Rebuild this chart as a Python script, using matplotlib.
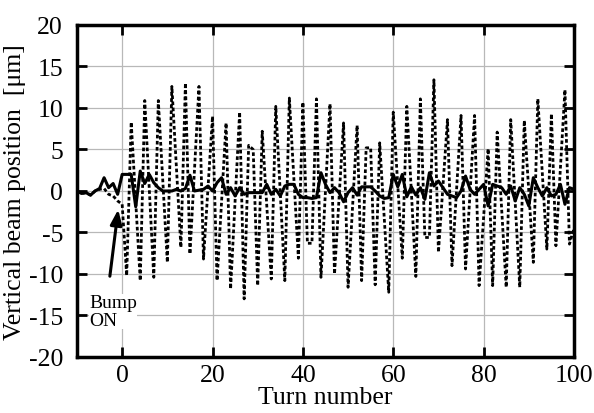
import matplotlib
matplotlib.use("Agg")
import matplotlib.pyplot as plt

plt.rcParams["font.family"] = ["Liberation Serif", "DejaVu Serif"]
plt.rcParams["axes.unicode_minus"] = False

# dotted trace: turn numbers and positions at its turning points
bump_turn = [-10, -9, -8, -7, -6, -5, -4, -3, -2, -1, 0,
             1, 2, 4, 5, 7, 8, 10, 11, 13, 14, 15, 17, 18, 20, 21, 23, 24, 26,
             27, 28, 29, 30, 31, 33, 34, 36, 37, 39, 40, 41, 42, 43, 44, 46,
             47, 49, 50, 52, 53, 54, 55, 56, 57, 59, 60, 62, 63, 65, 66, 67,
             68, 69, 70, 72, 73, 75, 76, 78, 79, 81, 82, 83, 85, 86, 88, 89,
             91, 92, 94, 95, 96, 98, 99, 100]
bump_pos = [0.0, -0.3, -0.2, -0.5, 0.0, 0.2, 0.3, -0.4, -0.6, -1.2, -1.6,
            -10.2, 8.3, -10.8, 10.9, -10.4, 10.9, -8.6, 12.6, -6.8, 13.0, -7.6, 12.6, -8.2, 9.0, -10.8, 8.2, -11.8, 9.5,
            -13.0, 5.5, 5.0, -11.4, 7.2, -10.6, 10.2, -10.8, 11.2, -8.1, 10.7, -6.3, -6.3, 11.1, -10.4, 10.5,
            -10.0, 8.2, -11.6, 7.9, -10.8, 5.2, 5.2, -11.3, 5.8, -12.2, 9.5, -8.1, 10.2, -10.3, 11.1, -5.6,
            -5.6, 13.4, -7.4, 8.6, -9.0, 9.1, -9.4, 9.1, -11.4, 5.1, -11.4, 7.1, -11.6, 8.6, -11.6, 8.5,
            -8.6, 11.1, -7.0, 9.3, -6.6, 12.2, -6.4, -4.5]

# solid trace, one value per turn from -10 to 100
turns = list(range(-10, 101))
base_pos = [0.0, -0.3, -0.2, -0.5, 0.0, 0.3, 1.6, 0.4, 0.9, -0.4,
            2.0, 2.0, 2.0, -1.9, 2.4, 0.9, 2.0, 1.0, 0.4, 0.0,
            0.0, 0.0, 0.2, 0.0, 0.3, 1.9, 0.0, 0.1, 0.2, 0.6,
            0.0, 1.0, 1.6, -0.4, 0.4, -0.6, 0.4, -0.4, -0.2, -0.2,
            -0.2, -0.2, 0.8, -0.4, 0.2, -0.6, 0.6, 0.8, 0.8, -0.4,
            -0.8, -0.8, -0.9, -0.8, 2.2, 0.8, -0.2, 0.4, -0.2, -1.3,
            -0.2, 0.4, -0.5, 0.5, 0.5, 0.5, 0.0, -0.6, -0.9, -0.8,
            2.0, 0.5, 2.0, -0.7, 0.5, -0.5, 0.4, -1.0, 2.2, 0.6,
            1.2, 0.4, -0.4, -0.6, -0.8, 0.0, 1.8, 0.2, -0.4, 0.2,
            0.8, -1.8, 0.8, 0.6, 0.4, -0.4, 0.6, -1.2, 0.4, -0.4,
            -1.8, 1.6, 0.4, -0.6, 0.4, -0.6, -0.4, 0.8, -1.6, 0.4,
            0.2]

xticks = [0, 20, 40, 60, 80, 100]
yticks = [-20, -15, -10, -5, 0, 5, 10, 15, 20]

fig = plt.figure(figsize=(5.94, 4.14), dpi=100)
ax = fig.add_axes([0.1296, 0.1353, 0.8367, 0.8019])

ax.plot(bump_turn, bump_pos, color="black", lw=2.0, linestyle=(0, (1.3, 0.9)))
ax.plot(turns, base_pos, color="black", lw=2.2)

ax.set_xlim(-10, 100)
ax.set_ylim(-20, 20)
ax.set_xticks(xticks)
ax.set_yticks(yticks)
ax.grid(True, color="#b8b8b8", lw=0.9)
ax.set_axisbelow(True)

ax.tick_params(direction="in", length=7, width=2, top=True, right=True,
               labelsize=18.5)
ax.tick_params(axis="y", pad=10)
ax.tick_params(axis="x", pad=5)
for s in ax.spines.values():
    s.set_linewidth(2.5)

ax.set_xlabel("Turn number", fontsize=18.5, labelpad=0)
ax.set_ylabel("Vertical beam position  [μm]", fontsize=18.5, labelpad=2)

ax.annotate("", xy=(-0.8, -1.9), xytext=(-2.8, -10.6),
            arrowprops=dict(arrowstyle="-|>,head_length=0.9,head_width=0.35",
                            color="black", lw=2.2))
ax.text(-7.3, -12.4, "Bump\nON", fontsize=14, va="top", ha="left",
        linespacing=1.05,
        bbox=dict(facecolor="white", edgecolor="none", pad=0))

fig.savefig("out.png", dpi=100)
